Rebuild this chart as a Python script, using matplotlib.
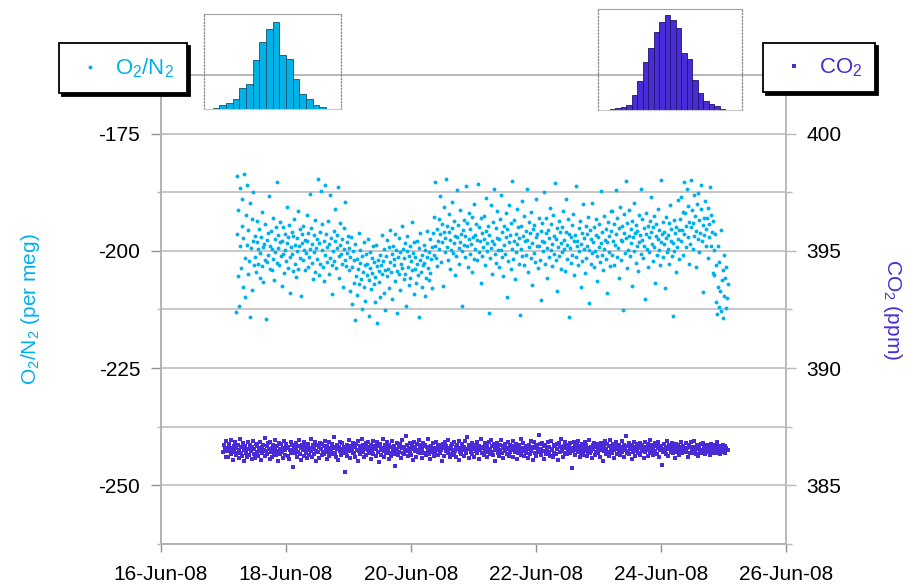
import numpy as np
import matplotlib
matplotlib.use("Agg")
from matplotlib import pyplot as plt
import matplotlib.dates as mdates
from datetime import datetime

plt.rcParams["font.family"] = ["Liberation Sans", "DejaVu Sans"]
plt.rcParams["mathtext.fontset"] = "custom"
plt.rcParams["mathtext.rm"] = "Liberation Sans"
plt.rcParams["mathtext.it"] = "Liberation Sans:italic"
plt.rcParams["mathtext.default"] = "regular"
plt.rcParams["axes.unicode_minus"] = False

#+++++ data
o2_start = datetime(2008, 6, 17, 4, 48)
o2_end = datetime(2008, 6, 25, 1, 40)
o2_values = np.array("""
-213.0 -196.4 -184.1 -205.3 -191.2 -211.8 -199.0 -186.5 -203.7 -194.8
-188.9 -207.6 -197.2 -183.6 -201.5 -209.9 -192.3 -198.8 -186.0 -205.0
-195.6 -202.2 -189.7 -214.2 -199.4 -193.1 -208.3 -197.9 -187.4 -203.0
-201.2 -196.8 -204.5 -198.1 -193.6 -202.9 -199.7 -195.3 -205.8 -200.4
-197.0 -203.3 -191.8 -199.1 -206.7 -198.5 -194.2 -201.9 -214.6 -197.6
-202.4 -196.1 -200.9 -188.3 -203.8 -198.9 -195.7 -204.1 -199.6 -192.9
-201.7 -206.2 -197.4 -200.2 -194.9 -202.6 -185.4 -199.3 -196.6 -203.1
-198.2 -193.8 -201.0 -207.4 -197.8 -200.7 -195.0 -204.8 -199.9 -196.3
-202.1 -190.7 -198.4 -203.6 -197.1 -194.4 -201.4 -208.9 -199.2 -195.9
-200.6 -204.3 -196.9 -193.2 -202.8 -198.7 -205.5 -197.3 -200.1 -191.5
-203.9 -199.0 -195.4 -201.6 -209.6 -196.5 -198.3 -202.0 -194.6 -199.8
-197.7 -204.0 -200.5 -192.4 -198.0 -203.4 -196.2 -201.3 -187.8 -199.5
-195.1 -202.5 -198.6 -206.0 -196.7 -200.3 -193.5 -204.6 -199.4 -197.5
-201.8 -184.7 -198.3 -205.2 -196.0 -202.7 -187.2 -199.8 -194.3 -203.5
-197.9 -206.4 -200.8 -185.9 -196.4 -202.3 -199.1 -193.7 -204.9 -198.6
-201.5 -188.0 -197.2 -203.0 -209.1 -200.0 -195.8 -202.1 -198.0 -191.0
-203.7 -199.3 -196.6 -186.3 -201.1 -205.7 -198.8 -194.1 -200.6 -202.8
-197.4 -207.8 -199.7 -195.2 -201.9 -189.6 -203.2 -198.2 -200.4 -196.9
-204.1 -199.3 -208.6 -201.2 -197.0 -211.4 -203.5 -200.1 -206.8 -202.0
-214.8 -198.6 -205.3 -201.7 -209.4 -203.9 -196.2 -207.1 -202.6 -199.9
-205.9 -212.3 -201.0 -204.5 -198.1 -207.7 -203.1 -210.6 -200.6 -205.1
-202.9 -197.5 -206.3 -213.9 -203.7 -200.3 -208.2 -201.5 -204.8 -199.0
-207.0 -202.3 -211.0 -205.6 -198.8 -203.3 -215.4 -201.9 -206.6 -204.2
-200.8 -209.8 -203.0 -196.7 -205.0 -202.1 -208.9 -199.6 -204.0 -212.7
-201.0 -205.4 -197.6 -203.8 -199.2 -207.9 -202.4 -195.5 -204.6 -200.7
-210.3 -198.9 -203.1 -201.8 -196.3 -206.5 -199.8 -204.3 -213.2 -201.3
-197.2 -205.0 -200.2 -208.4 -202.7 -194.8 -203.6 -199.5 -206.1 -201.6
-198.4 -204.9 -211.7 -200.0 -196.9 -203.4 -207.3 -201.1 -199.0 -205.7
-202.2 -193.9 -204.1 -200.5 -209.2 -198.2 -203.9 -201.4 -206.9 -197.8
-202.9 -205.2 -199.4 -214.1 -201.9 -196.1 -204.4 -200.9 -207.6 -203.0
-198.7 -202.5 -209.7 -199.9 -205.8 -201.2 -195.7 -203.7 -200.3 -206.3
-197.4 -204.7 -201.7 -199.1 -208.0
-196.2 -200.8 -192.7 -198.9 -185.3 -201.6 -195.4 -203.2 -197.8 -193.1
-199.7 -188.4 -196.5 -202.3 -194.2 -198.1 -207.5 -195.9 -190.6 -200.2
-197.3 -184.6 -199.2 -194.8 -201.9 -196.0 -192.2 -203.8 -197.6 -199.9
-189.5 -195.1 -200.5 -198.4 -193.7 -205.1 -196.8 -201.0 -187.1 -197.1
-194.5 -199.4 -202.7 -191.3 -198.2 -196.3 -211.8 -200.0 -195.6 -193.4
-198.7 -201.3 -196.9 -186.2 -199.0 -194.0 -203.5 -197.5 -191.9 -200.7
-195.3 -198.6 -204.4 -192.8 -197.0 -201.8 -189.9 -196.6 -199.6 -194.3
-202.0 -197.7 -185.8 -200.3 -195.0 -198.0 -193.0 -206.8 -196.1 -201.1
-199.1 -192.5 -197.4 -203.0 -195.8 -188.7 -200.1 -198.3 -194.7 -213.3
-196.7 -201.5 -190.2 -199.3 -197.9 -204.9 -193.9 -198.5 -186.9 -200.6
-195.2 -202.6 -197.2 -191.6 -199.8
-197.5 -203.4 -193.2 -199.9 -188.1 -201.2 -196.0 -205.3 -194.6 -198.8
-200.7 -192.0 -197.1 -209.8 -195.4 -202.1 -190.3 -198.2 -196.6 -203.9
-194.1 -199.5 -185.0 -201.7 -197.8 -193.5 -206.0 -196.3 -200.2 -191.1
-198.6 -195.0 -202.9 -197.3 -213.6 -194.8 -199.7 -189.4 -201.0 -196.9
-192.6 -203.1 -198.0 -195.7 -200.9 -186.7 -197.6 -204.5 -193.9 -199.2
-196.1 -201.5 -191.8 -198.4 -207.2 -195.3 -200.4 -194.4 -202.4 -197.0
-189.0 -199.0 -196.5 -203.6 -192.9 -198.9 -201.9 -195.8 -210.4 -197.9
-194.0 -200.0 -187.5 -198.1 -202.7 -196.2 -193.0 -199.4 -205.7 -195.5
-201.4 -197.2 -190.8 -199.8 -194.3 -203.2 -198.5 -192.3 -200.6 -196.8
-185.6 -202.0 -197.4 -195.1 -208.6 -199.1 -193.7 -201.1 -196.0 -198.3
-203.8 -194.9 -200.3 -191.5 -197.7 -199.6 -204.2 -195.9 -188.9 -198.7
-201.8 -193.3 -196.4 -214.0 -199.3 -197.0 -202.5 -194.5 -200.8 -192.1
-198.0 -205.1 -196.7 -201.3 -186.2 -197.8 -199.0 -203.0 -195.2 -200.1
-193.6 -198.6 -207.7 -196.1 -202.2 -190.0 -199.5 -197.3 -204.8 -194.7
-201.6 -196.3 -198.9 -192.7 -211.2 -199.8 -195.6 -202.8 -197.5 -200.5
-189.7 -198.2 -203.5 -195.0 -200.0 -196.6 -193.1 -201.0 -206.4 -197.1
-199.2 -194.2 -202.3 -187.3 -198.4 -200.9 -196.0 -204.0 -192.5 -199.7
-197.6 -201.7 -195.3 -209.0 -198.1 -193.8 -200.2 -196.8 -203.3 -191.4
-195.7 -200.9 -191.4 -197.9 -203.1 -194.2 -198.7 -187.0 -196.5 -201.4
-193.0 -199.3 -205.8 -195.1 -190.6 -197.6 -201.9 -194.7 -198.0 -212.6
-196.1 -192.1 -200.4 -185.2 -197.3 -203.7 -194.0 -199.8 -196.9 -191.2
-201.1 -195.4 -198.4 -207.4 -193.6 -197.0 -200.0 -189.8 -196.2 -202.5
-194.5 -199.0 -195.8 -204.3 -192.4 -198.2 -196.7 -200.6 -186.9 -197.7
-193.3 -201.6 -195.2 -198.9 -210.2 -196.3 -191.9 -199.5 -194.8 -203.4
-197.1 -200.2 -193.7 -196.0 -188.5 -198.5 -202.2 -195.0 -199.2 -192.6
-206.9 -196.8 -194.3 -200.8 -197.4 -191.0 -199.9 -195.5 -203.0 -198.1
-184.8 -196.4 -201.2 -193.9 -198.6 -195.9 -208.0 -197.2 -192.8 -200.3
-196.6 -199.7 -194.1 -202.9 -190.2 -197.8 -195.3 -201.0 -198.3 -213.8
-193.5 -200.1 -196.2 -204.6 -194.9 -199.1 -197.5 -189.1 -201.8 -195.6
-193.2 -197.8 -188.6 -195.5 -200.9 -191.7 -185.4 -196.3 -192.0 -199.2
-194.6 -186.9 -197.1 -190.5 -202.8 -193.9 -198.5 -184.9 -195.0 -191.3
-199.6 -194.0 -188.0 -196.8 -192.6 -203.5 -195.7 -190.1 -197.4 -187.6
-193.5 -200.3 -196.1 -191.0 -185.9 -198.0 -194.4 -208.7 -192.9 -196.6
-189.3 -195.3 -199.0 -193.0 -201.5 -190.8 -197.0 -194.2 -186.4 -198.9
-192.4 -196.0 -204.7 -193.7 -199.8
-205.2 -196.4 -210.8 -203.1 -213.5 -199.0 -207.7 -211.9 -202.4 -208.5
-195.6 -212.8 -206.3 -204.0 -214.3 -200.9 -209.6 -205.8 -212.1 -203.5
-210.0 -207.1
""".split(), dtype=float)

co2_start = datetime(2008, 6, 17, 0, 0)
co2_end = datetime(2008, 6, 25, 1, 40)
co2_values = np.array("""
386.42 386.71 386.55 386.23 386.88 386.47 386.61 386.19 386.76 386.50
386.34 386.92 386.58 386.07 386.66 386.44 386.83 386.29 386.60 386.38
386.73 386.15 386.52 386.97 386.36 386.64 386.26 386.81 386.49 386.02
386.69 386.40 386.57 386.21 386.86 386.53 386.31 386.74 386.46 386.12
386.62 386.90 386.35 386.56 386.18 386.78 386.43 386.67 386.27 386.59
386.48 386.84 386.09 386.63 386.37 386.72 386.51 386.25 387.02 386.45
386.66 386.32 386.79 386.54 386.14 386.87 386.41 386.60 386.22 386.70
386.39 386.95 386.57 386.28 386.68 386.47 386.05 386.82 386.53 386.33
386.75 386.44 386.17 386.61 386.89 386.50 386.30 386.77 386.58 386.24
386.65 386.11 386.52 386.85 386.36 386.71 386.46 385.78 386.62 386.40
386.80 386.55 386.20 386.69 386.43 386.93 386.34 386.59 386.08 386.74
386.49 386.27 386.83 386.56 386.38 386.67 386.15 386.78 386.52 386.31
386.61 386.99 386.45 386.22 386.73 386.54 386.35 386.86 386.48 386.04
386.70 386.41 386.63 386.18 386.81 386.57 386.29 386.76 386.44 386.66
386.35 386.91 386.50 386.13 386.68 386.42 386.84 386.25 386.60 386.47
386.77 386.33 386.58 387.08 386.39 386.64 386.21 386.72 386.53 386.10
386.62 386.46 386.87 386.30 386.55 386.79 386.37 386.65 385.55 386.51
386.43 386.74 386.26 386.60 386.94 386.48 386.16 386.69 386.57 386.36
386.82 386.40 386.64 386.23 386.75 386.52 386.06 386.88 386.45 386.67
386.32 386.59 386.97 386.41 386.70 386.19 386.56 386.80 386.28 386.63
386.50 386.85 386.38 386.61 386.12 386.73 386.47 386.90 386.34 386.58
386.68 386.24 386.54 386.83 386.42 386.66 386.01 386.77 386.49 386.31
386.60 386.96 386.45 386.20 386.71 386.53 386.37 386.86 386.56 386.14
386.74 386.39 386.62 386.27 386.89 386.51 386.33 386.69 385.82 386.46
386.57 386.81 386.29 386.64 386.44 386.76 386.18 386.58 386.92 386.40
386.65 386.35 386.52 387.12 386.48 386.72 386.25 386.61 386.43 386.79
386.30 386.67 386.55 386.09 386.84 386.46 386.63 386.22 386.75 386.50
386.41 386.93 386.59 386.36 386.70 386.17 386.54 386.82 386.39 386.66
386.73 386.28 386.62 386.47 386.99 386.33 386.57 386.13 386.68 386.44
386.55 386.80 386.24 386.60 386.42 386.87 386.51 386.31 386.74 386.64
386.37 386.71 386.49 386.03 386.78 386.58 386.26 386.85 386.45 386.69
386.61 386.40 386.94 386.53 386.19 386.67 386.35 386.76 386.50 386.29
386.83 386.46 386.63 386.21 386.72 386.56 386.08 386.88 386.43 386.60
386.34 386.77 386.52 386.65 386.27 386.90 386.48 386.38 387.05 386.57
386.70 386.15 386.59 386.44 386.81 386.32 386.66 386.54 386.23 386.74
386.47 386.86 386.36 386.62 386.11 386.69 386.51 386.97 386.40 386.58
386.64 386.28 386.79 386.45 386.55 386.20 386.73 386.41 386.87 386.33
386.56 386.92 386.43 386.67 386.30 386.75 386.06 386.60 386.49 386.82
386.39 386.63 386.25 386.71 386.52 386.95 386.37 386.58 386.16 386.68
386.77 386.46 386.61 386.34 386.84 386.53 386.27 386.70 386.44 386.59
386.50 386.89 386.22 386.66 386.42 386.78 386.57 386.12 386.63 386.36
386.72 386.48 386.96 386.31 386.60 386.45 386.81 386.26 386.54 386.69
386.40 386.65 386.18 386.74 386.55 386.33 386.88 386.47 386.62 386.07
386.58 386.83 386.38 386.71 386.24 386.64 386.51 387.15 386.43 386.76
386.29 386.57 386.79 386.46 386.67 386.14 386.73 386.35 386.61 386.52
386.85 386.41 386.63 386.27 386.90 386.49 386.56 386.20 386.70 386.39
386.66 386.32 386.75 386.53 386.10 386.80 386.44 386.62 386.98 386.48
386.55 386.23 386.68 386.40 386.86 386.58 386.34 386.72 386.47 386.64
386.37 386.79 386.52 385.72 386.61 386.45 386.83 386.28 386.69 386.50
386.74 386.43 386.91 386.56 386.19 386.67 386.38 386.77 386.54 386.31
386.62 386.87 386.46 386.70 386.25 386.59 386.41 386.93 386.36 386.65
386.48 386.16 386.73 386.53 386.82 386.30 386.64 386.44 386.76 386.57
386.39 386.69 386.22 386.81 386.50 386.62 386.05 386.71 386.47 386.88
386.56 386.34 386.78 386.43 386.66 386.27 386.94 386.52 386.61 386.40
386.75 386.49 386.17 386.68 386.55 386.84 386.33 386.59 386.45 386.72
386.28 386.63 386.90 386.42 386.57 386.21 386.74 386.51 387.09 386.37
386.67 386.46 386.80 386.35 386.62 386.54 386.13 386.70 386.44 386.85
386.53 386.26 386.65 386.48 386.77 386.39 386.59 386.82 386.31 386.68
386.45 386.73 386.55 386.18 386.87 386.41 386.64 386.50 386.24 386.76
386.60 386.38 386.95 386.52 386.71 386.29 386.56 386.43 386.79 386.47
386.66 386.33 386.58 386.84 386.20 386.69 386.49 386.62 385.88 386.54
386.41 386.78 386.46 386.63 386.35 386.90 386.53 386.27 386.72 386.57
386.44 386.61 386.81 386.38 386.67 386.50 386.15 386.75 386.59 386.42
386.70 386.48 386.30 386.64 386.86 386.55 386.37 386.69 386.45 386.60
386.52 386.79 386.43 386.58 386.23 386.73 386.62 386.40 386.83 386.49
386.36 386.65 386.56 386.88 386.47 386.32 386.71 386.54 386.26 386.68
386.61 386.44 386.76 386.50 386.39 386.82 386.57 386.63 386.34 386.48
386.73 386.53 386.41 386.66 386.29 386.60 386.77 386.46 386.58 386.37
386.51 386.70 386.45 386.62 386.85 386.40 386.55 386.68 386.33 386.64
386.47 386.59 386.74 386.42 386.57 386.66 386.36 386.61 386.52 386.49
""".split(), dtype=float)

# inset histograms (bar heights as drawn)
o2_hist_counts = [4, 11, 19, 31, 62, 75, 147, 200, 239, 261, 162, 150, 90, 44, 30, 12, 6, 1]
co2_hist_counts = [1, 2, 6, 9, 14, 46, 88, 143, 187, 233, 265, 284, 270, 245,
                   171, 153, 90, 50, 26, 17, 12, 2, 1]

o2_label = "O$_2$/N$_2$"
co2_label = "CO$_2$"
o2_axis_label = "O$_2$/N$_2$ (per meg)"
co2_axis_label = "CO$_2$ (ppm)"
o2_major = [-250, -225, -200, -175]
o2_minor = [-262.5, -237.5, -212.5, -187.5, -162.5]
co2_major = [385, 390, 395, 400]
co2_minor = [382.5, 387.5, 392.5, 397.5, 402.5]
#-----

o2_color = "#00B0EE"
co2_color = "#4A2BD8"
grid_color = "#b8b8b8"

o2_time = np.linspace(mdates.date2num(o2_start), mdates.date2num(o2_end), len(o2_values))
co2_time = np.linspace(mdates.date2num(co2_start), mdates.date2num(co2_end), len(co2_values))

fig = plt.figure(figsize=(9.1, 5.86), dpi=100)
ax = fig.add_axes([0.1769, 0.0717, 0.6865, 0.8003])
ax2 = ax.twinx()

h1, = ax.plot(o2_time, o2_values, "o", ms=2.8, mew=0, color=o2_color, zorder=3)
h2, = ax2.plot(co2_time, co2_values, "s", ms=2.7, mew=0, color=co2_color, zorder=3)

ax.set_xlim(mdates.date2num(datetime(2008, 6, 16)), mdates.date2num(datetime(2008, 6, 26)))
ax.set_ylim(-262.5, -162.5)
ax2.set_ylim(382.5, 402.5)

ax.xaxis.set_major_locator(mdates.DayLocator(interval=2))
ax.xaxis.set_major_formatter(mdates.DateFormatter("%d-%b-%y"))

ax.set_yticks(o2_major)
ax.set_yticks(o2_minor, minor=True)
ax2.set_yticks(co2_major)
ax2.set_yticks(co2_minor, minor=True)

ax.grid(True, axis="y", which="both", color=grid_color, lw=1.1, zorder=0)
ax.set_axisbelow(True)

for a in (ax, ax2):
    for s in a.spines.values():
        s.set_color(grid_color)
        s.set_linewidth(1.1)
ax.spines["left"].set_color("#909090")
ax.spines["bottom"].set_color("#909090")

ax.tick_params(axis="y", which="major", length=7, width=1, color="#909090",
               labelsize=15, pad=8)
ax.tick_params(axis="y", which="minor", length=3, width=1, color=grid_color)
ax.tick_params(axis="x", length=6, width=1, color="#909090", labelsize=15, pad=9)
ax2.tick_params(axis="y", which="major", length=7, width=1, color=grid_color,
                labelsize=15, pad=8)
ax2.tick_params(axis="y", which="minor", length=4, width=1, color=grid_color)

ax.set_ylabel(o2_axis_label, color=o2_color, fontsize=15)
ax.yaxis.set_label_coords(-0.19, 0.5)
ax2.set_ylabel(co2_axis_label, color=co2_color, fontsize=15, rotation=270, va="bottom")
ax2.yaxis.set_label_coords(1.152, 0.5)

# legends as framed boxes with black drop shadow
shadow = dict(color="black", alpha=1)
leg1 = fig.legend([h1], [o2_label], loc="upper left", bbox_to_anchor=(0.0648, 0.9266),
                  fontsize=16, labelcolor=o2_color, fancybox=False, shadow=shadow,
                  framealpha=1, edgecolor="black", borderpad=0.6, handlelength=1.6,
                  handletextpad=0.3, borderaxespad=0, markerscale=1.0)
leg2 = fig.legend([h2], [co2_label], loc="upper left", bbox_to_anchor=(0.8385, 0.9266),
                  fontsize=16, labelcolor=co2_color, fancybox=False, shadow=shadow,
                  framealpha=1, edgecolor="black", borderpad=0.6, handlelength=1.6,
                  handletextpad=0.3, borderaxespad=0, markerscale=1.0)
for leg in (leg1, leg2):
    leg.get_frame().set_linewidth(1.3)

# inset histograms
def histo(rect, counts, xlim, ylim, face, edge):
    ins = fig.add_axes(rect)
    ins.patch.set_alpha(0)
    ins.bar(np.arange(len(counts)) + 0.5, counts, width=1.0, color=face,
            edgecolor=edge, linewidth=0.6)
    ins.set_xlim(*xlim)
    ins.set_ylim(*ylim)
    ins.set_xticks([])
    ins.set_yticks([])
    for side in ("left", "right"):
        ins.spines[side].set_linestyle(":")
        ins.spines[side].set_color("#888888")
        ins.spines[side].set_linewidth(0.9)
    ins.spines["top"].set_color("#a0a0a0")
    ins.spines["bottom"].set_color("#c8c8c8")
    return ins

histo([0.2242, 0.814, 0.1502, 0.1621], o2_hist_counts, (-1.3, 19.2), (0, 285),
      "#00B2E8", "#1b4f6e")
histo([0.6568, 0.8123, 0.1582, 0.1718], co2_hist_counts, (-1.2, 25.0), (0, 302),
      "#4A2BD8", "#24126a")

fig.savefig("out.png", dpi=100)
